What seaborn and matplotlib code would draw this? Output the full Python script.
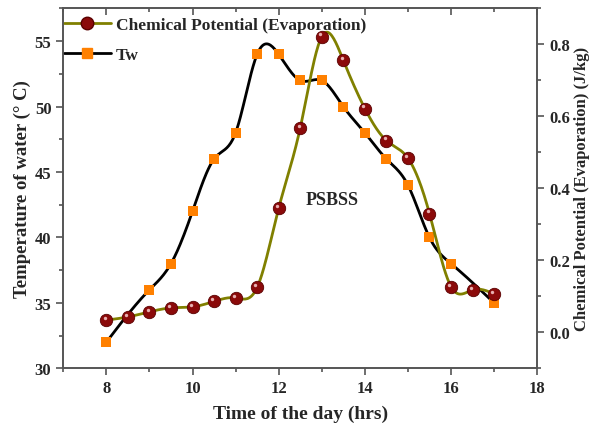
import numpy as np
import pandas as pd
import seaborn as sns
import matplotlib
matplotlib.use("Agg")
import matplotlib.pyplot as plt
from matplotlib.lines import Line2D
from matplotlib.ticker import MultipleLocator

# water temperature (left axis)
tw_time = [8, 9, 9.5, 10, 10.5, 11, 11.5, 12, 12.5, 13, 13.5, 14, 14.5, 15, 15.5, 16, 17]
tw_temp = [32, 36, 38, 42, 46, 48, 54, 54, 52, 52, 50, 48, 46, 44, 40, 38, 35]

# chemical potential (right axis)
cp_time = [8, 8.5, 9, 9.5, 10, 10.5, 11, 11.5, 12, 12.5, 13, 13.5, 14, 14.5, 15, 15.5, 16, 16.5, 17]
cp_val = [0.034, 0.043, 0.057, 0.068, 0.071, 0.086, 0.096, 0.125, 0.345, 0.568, 0.822,
          0.756, 0.622, 0.533, 0.484, 0.330, 0.127, 0.118, 0.107]


def natural_spline(x, y, n=400):
    # natural cubic spline through the points, just for drawing the smooth line
    x = np.asarray(x, float)
    y = np.asarray(y, float)
    h = np.diff(x)
    m = len(x)
    A = np.zeros((m, m))
    b = np.zeros(m)
    A[0, 0] = A[-1, -1] = 1
    for i in range(1, m - 1):
        A[i, i - 1] = h[i - 1]
        A[i, i] = 2 * (h[i - 1] + h[i])
        A[i, i + 1] = h[i]
        b[i] = 6 * ((y[i + 1] - y[i]) / h[i] - (y[i] - y[i - 1]) / h[i - 1])
    M = np.linalg.solve(A, b)
    xs = np.linspace(x[0], x[-1], n)
    k = np.clip(np.searchsorted(x, xs) - 1, 0, m - 2)
    t0 = x[k + 1] - xs
    t1 = xs - x[k]
    hk = h[k]
    ys = (M[k] * t0 ** 3 + M[k + 1] * t1 ** 3) / (6 * hk) \
        + (y[k] / hk - M[k] * hk / 6) * t0 + (y[k + 1] / hk - M[k + 1] * hk / 6) * t1
    return xs, ys


sns.set_style("ticks")
plt.rcParams['font.family'] = ['Liberation Serif', 'DejaVu Serif']
plt.rcParams['font.weight'] = 'bold'
plt.rcParams['axes.labelweight'] = 'bold'

olive = '#808000'
dark_red = '#8b0a0a'
orange = '#ff8000'
spine_col = '#555555'

fig = plt.figure(figsize=(5.91, 4.31), dpi=100)
ax = fig.add_axes([0.107, 0.143, 0.802, 0.835])
ax2 = ax.twinx()

xs, ys = natural_spline(tw_time, tw_temp)
sns.lineplot(x=xs, y=ys, ax=ax, color='black', lw=2, sort=False)
tw = pd.DataFrame({'time': tw_time, 'temp': tw_temp})
sns.scatterplot(data=tw, x='time', y='temp', ax=ax, marker='s', s=45, color=orange,
                edgecolor=orange, linewidth=0, zorder=5)

xs2, ys2 = natural_spline(cp_time, cp_val)
sns.lineplot(x=xs2, y=ys2, ax=ax2, color=olive, lw=2, sort=False)
cp = pd.DataFrame({'time': cp_time, 'cp': cp_val})
sns.scatterplot(data=cp, x='time', y='cp', ax=ax2, marker='o', s=80, color=dark_red,
                edgecolor='#5a0000', linewidth=0.6, zorder=5)
# small highlight on the balls
ax2.scatter(np.array(cp_time) - 0.04, np.array(cp_val) + 0.006, s=6, color='#e8b0b0',
            linewidth=0, zorder=6)

ax.set_xlim(7, 18)
ax.set_ylim(30, 57.5)
ax2.set_ylim(-0.1, 0.9)

ax.xaxis.set_major_locator(MultipleLocator(2))
ax.xaxis.set_minor_locator(MultipleLocator(1))
ax.yaxis.set_major_locator(MultipleLocator(5))
ax.yaxis.set_minor_locator(MultipleLocator(2.5))
ax2.yaxis.set_major_locator(MultipleLocator(0.2))
ax2.yaxis.set_minor_locator(MultipleLocator(0.1))

ax.tick_params(axis='both', which='major', labelsize=12, length=5, width=1.2,
               color=spine_col, direction='out')
ax.tick_params(axis='both', which='minor', length=3, width=1.2, color=spine_col, direction='out')
ax2.tick_params(axis='y', which='major', labelsize=12, length=5, width=1.2, color=spine_col)
ax2.tick_params(axis='y', which='minor', length=3, width=1.2, color=spine_col)
ax2.set_yticks(ax2.get_yticks())
ax2.set_yticklabels([f"{v:.1f}" for v in ax2.get_yticks()])
ax2.set_ylim(-0.1, 0.9)
for lab in ax.get_xticklabels() + ax.get_yticklabels() + ax2.get_yticklabels():
    lab.set_fontweight('bold')

# top ticks point inward like the original
sec = ax.secondary_xaxis('top')
sec.xaxis.set_major_locator(MultipleLocator(2))
sec.xaxis.set_minor_locator(MultipleLocator(1))
sec.tick_params(which='major', direction='in', length=5, width=1.2, color=spine_col, labeltop=False)
sec.tick_params(which='minor', direction='in', length=3, width=1.2, color=spine_col)
sec.spines['top'].set_visible(False)
ax.tick_params(axis='x', which='both', top=False)

for a in (ax, ax2):
    for sp in a.spines.values():
        sp.set_color(spine_col)
        sp.set_linewidth(1.2)
        sp.set_visible(True)

ax.set_xlabel("Time of the day (hrs)", fontsize=14, fontweight='bold', labelpad=6)
ax.set_ylabel("Temperature of water (° C)", fontsize=13.5, fontweight='bold', labelpad=3)
ax2.set_ylabel("Chemical Potential (Evaporation) (J/kg)", fontsize=12, fontweight='bold',
               labelpad=3)

ax.text(13.25, 42.9, "PSBSS", fontsize=13, fontweight='bold', ha='center', va='center')

handles = [
    Line2D([], [], color=olive, lw=2, marker='o', markersize=9, markerfacecolor=dark_red,
           markeredgecolor='#5a0000'),
    Line2D([], [], color='black', lw=2, marker='s', markersize=7, markerfacecolor=orange,
           markeredgecolor=orange),
]
leg = ax.legend(handles, ["Chemical Potential (Evaporation)", "Tw"], loc='upper left',
                bbox_to_anchor=(-0.01, 0.99), frameon=False, handlelength=2.7,
                labelspacing=0.75, borderaxespad=0.0, borderpad=0.3, handletextpad=0.3,
                prop={'weight': 'bold', 'size': 12.5})

fig.savefig("out.png", dpi=100)
